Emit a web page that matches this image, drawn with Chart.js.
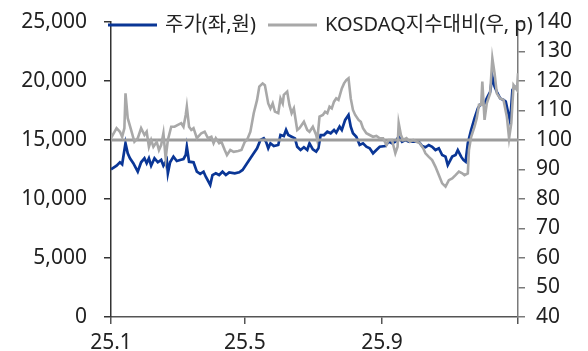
<!DOCTYPE html>
<html>
<head>
<meta charset="utf-8">
<script src="https://cdn.jsdelivr.net/npm/chart.js@4/dist/chart.umd.min.js"></script>
<style>
  html, body { margin: 0; padding: 0; background: #ffffff; }
  #wrap { width: 588px; height: 351px; }
</style>
</head>
<body>
<div id="wrap"><canvas id="c" width="588" height="351"></canvas></div>
<script>
// Share price (KRW, left axis) — days counted from 2025-01-01
const priceDays = [0,5,8,10,13,15,17,20,24,27,30,32,34,36,39,42,45,47,50,51,53,56,59,62,65,67,68,70,74,77,80,83,85,89,91,94,97,100,103,106,111,115,118,121,125,128,131,134,137,139,141,143,146,150,152,155,157,159,162,165,167,170,173,176,178,181,184,186,188,191,194,197,200,202,205,207,210,213,215,217,220,223,226,229,232,235,238,241,246,249,252,255,258,261,264,267,270,273,276,279,282,285,288,291,294,297,300,302,306,309,311,314,316,318,320,323,326,329,332,335,337,340,342,344,346,349,352,354,356,358,360,362,364,365];
const priceValues = [12520,12820,13110,12940,14720,13870,13450,13030,12310,13110,13450,13030,13450,12820,13450,13110,13310,12820,13310,12180,13110,13590,13220,13310,13390,13730,14430,13160,13110,12310,12120,12310,11890,11190,12030,12180,12030,12310,12030,12260,12180,12260,12460,12880,13450,13870,14300,15000,15140,14860,14300,14720,14490,14580,15420,15340,15850,15420,15280,15140,14430,14150,14380,14150,14720,14210,14010,14300,15420,15420,15700,15570,15850,15620,16130,15850,16700,17120,16130,15570,15280,14580,14720,14430,14300,13870,14150,14430,14490,14860,14720,14860,15280,14860,15000,14860,14860,14860,14860,14490,14380,14580,14430,14150,14300,13730,13590,12880,13590,13730,14150,13590,13310,13160,14720,15850,16840,17690,18110,18110,18530,19090,20370,19520,19090,18530,18390,18250,17400,16550,19240,19520,19380,19800];

// Relative to KOSDAQ index (pt, right axis)
const relDays = [0,5,8,10,12,13,15,18,21,24,27,30,32,34,36,38,41,43,45,47,49,51,54,57,60,63,65,67,68,70,72,74,77,81,84,87,90,92,94,97,99,102,104,107,110,114,117,120,122,125,128,131,133,136,138,141,143,145,147,150,152,154,155,158,160,162,164,167,169,171,173,176,178,181,184,185,187,190,192,194,196,198,200,202,204,207,209,211,213,215,217,219,222,224,226,229,232,235,238,241,244,247,249,252,255,257,258,260,262,265,268,271,274,277,280,282,285,288,291,294,297,300,303,306,309,312,315,317,320,321,323,326,328,330,332,333,335,337,340,342,344,346,349,352,355,357,359,361,364,365];
const relValues = [100.6,104.0,102.8,101.1,104.0,115.8,107.4,103.4,99.4,100.6,104.0,101.7,102.8,97.7,100.0,97.7,99.4,96.6,98.3,102.3,93.8,100.0,104.5,104.5,105.1,105.7,104.5,108.5,111.3,104.5,103.4,104.0,100.6,102.3,102.8,100.6,101.1,98.9,100.6,98.9,99.4,96.6,94.9,96.6,96.0,96.3,96.6,99.4,100.0,102.8,109.1,113.6,118.1,119.2,118.6,112.4,110.7,112.4,109.6,109.1,114.1,112.4,115.3,116.4,111.9,109.1,110.7,103.4,104.0,105.1,106.2,103.4,102.8,104.5,101.7,100.0,107.9,108.5,109.6,109.1,111.3,110.7,113.0,114.1,113.6,117.5,119.2,120.3,120.9,114.1,110.2,108.5,106.8,106.2,104.0,102.3,101.7,101.1,101.4,100.6,100.6,98.3,100.0,100.0,95.5,97.7,105.7,101.7,100.0,100.6,99.4,100.0,99.4,98.9,97.2,95.5,94.3,93.2,90.9,88.1,85.3,84.2,86.4,87.0,88.1,89.3,88.7,88.1,88.7,96.6,101.1,104.5,107.4,111.9,111.9,119.8,106.8,112.4,115.8,127.7,122.6,115.8,114.1,113.6,107.9,100.6,105.7,118.6,117.0,122.6];

// Reference level of the relative index
const baseLevel = 100;

// Date axis ticks (days from 2025-01-01) and their labels
const tickDays = [0, 120, 243, 365];
const tickLabels = ['25.1', '25.5', '25.9', ''];

const seriesNames = ['주가(좌,원)', 'KOSDAQ지수대비(우, p)'];
const BLUE = '#0a3696';
const GREY = '#a8a8a8';
const FONT = '"Noto Sans", "Noto Sans CJK KR", sans-serif';

const pairs = (xs, ys) => xs.map((d, i) => ({ x: d, y: ys[i] }));

// Fixed-width value axes whose end labels may overhang the plot edges
const fitY = w => s => { s.width = w; s.paddingTop = 0; s.paddingBottom = 0; };

// Legend drawn over the top of the plot area
const topLegend = {
  id: 'topLegend',
  afterDraw(chart) {
    const { ctx, chartArea } = chart;
    const y = chartArea.top + 3;
    const items = [
      { name: seriesNames[0], color: BLUE, x: chartArea.left - 3 },
      { name: seriesNames[1], color: GREY, x: chartArea.left + 157 }
    ];
    ctx.save();
    ctx.font = '20px ' + FONT;
    ctx.textBaseline = 'middle';
    ctx.fillStyle = '#222222';
    items.forEach(it => {
      ctx.strokeStyle = it.color;
      ctx.lineWidth = 3;
      ctx.beginPath();
      ctx.moveTo(it.x, y);
      ctx.lineTo(it.x + 49, y);
      ctx.stroke();
      ctx.fillText(it.name, it.x + 57, y);
    });
    ctx.restore();
  }
};

new Chart(document.getElementById('c'), {
  type: 'line',
  data: {
    datasets: [
      {
        label: seriesNames[1],
        data: pairs(relDays, relValues),
        yAxisID: 'yR',
        borderColor: GREY,
        borderWidth: 2.6,
        pointRadius: 0,
        tension: 0,
        fill: false
      },
      {
        label: 'base',
        data: [{ x: 0, y: baseLevel }, { x: 365, y: baseLevel }],
        yAxisID: 'yR',
        borderColor: '#9c9c9c',
        borderWidth: 3,
        pointRadius: 0,
        fill: false
      },
      {
        label: seriesNames[0],
        data: pairs(priceDays, priceValues),
        yAxisID: 'yL',
        borderColor: BLUE,
        borderWidth: 2.7,
        pointRadius: 0,
        tension: 0,
        fill: false
      }
    ]
  },
  options: {
    responsive: false,
    animation: false,
    events: [],
    layout: { padding: { top: 22, left: 0, right: 0, bottom: 0 } },
    plugins: { legend: { display: false }, tooltip: { enabled: false } },
    scales: {
      x: {
        type: 'linear',
        min: 0,
        max: 365,
        afterBuildTicks: s => { s.ticks = tickDays.map(v => ({ value: v })); },
        afterFit: s => { s.height = 34; s.paddingLeft = 0; s.paddingRight = 0; },
        ticks: {
          autoSkip: false,
          maxRotation: 0,
          padding: 6,
          color: '#222222',
          font: { family: FONT, size: 21 },
          callback: v => tickLabels[tickDays.indexOf(v)] ?? ''
        },
        grid: { drawOnChartArea: false, drawTicks: true, tickLength: 7, color: '#555555', lineWidth: 1.5 },
        border: { display: true, color: '#555555', width: 1.5 }
      },
      yL: {
        position: 'left',
        min: 0,
        max: 25000,
        afterFit: fitY(111),
        ticks: {
          stepSize: 5000,
          padding: 17,
          color: '#222222',
          font: { family: FONT, size: 21 },
          callback: v => v.toLocaleString('en-US')
        },
        grid: { drawOnChartArea: false, drawTicks: true, tickLength: 7, color: '#333333', lineWidth: 1.5 },
        border: { display: true, color: '#333333', width: 1.5 }
      },
      yR: {
        position: 'right',
        min: 40,
        max: 140,
        afterFit: fitY(70),
        ticks: {
          stepSize: 10,
          padding: 11,
          color: '#222222',
          font: { family: FONT, size: 21 }
        },
        grid: { drawOnChartArea: false, drawTicks: true, tickLength: 7, color: '#7a7a7a', lineWidth: 1.5 },
        border: { display: true, color: '#7a7a7a', width: 1.5 }
      }
    }
  },
  plugins: [topLegend]
});
</script>
</body>
</html>
